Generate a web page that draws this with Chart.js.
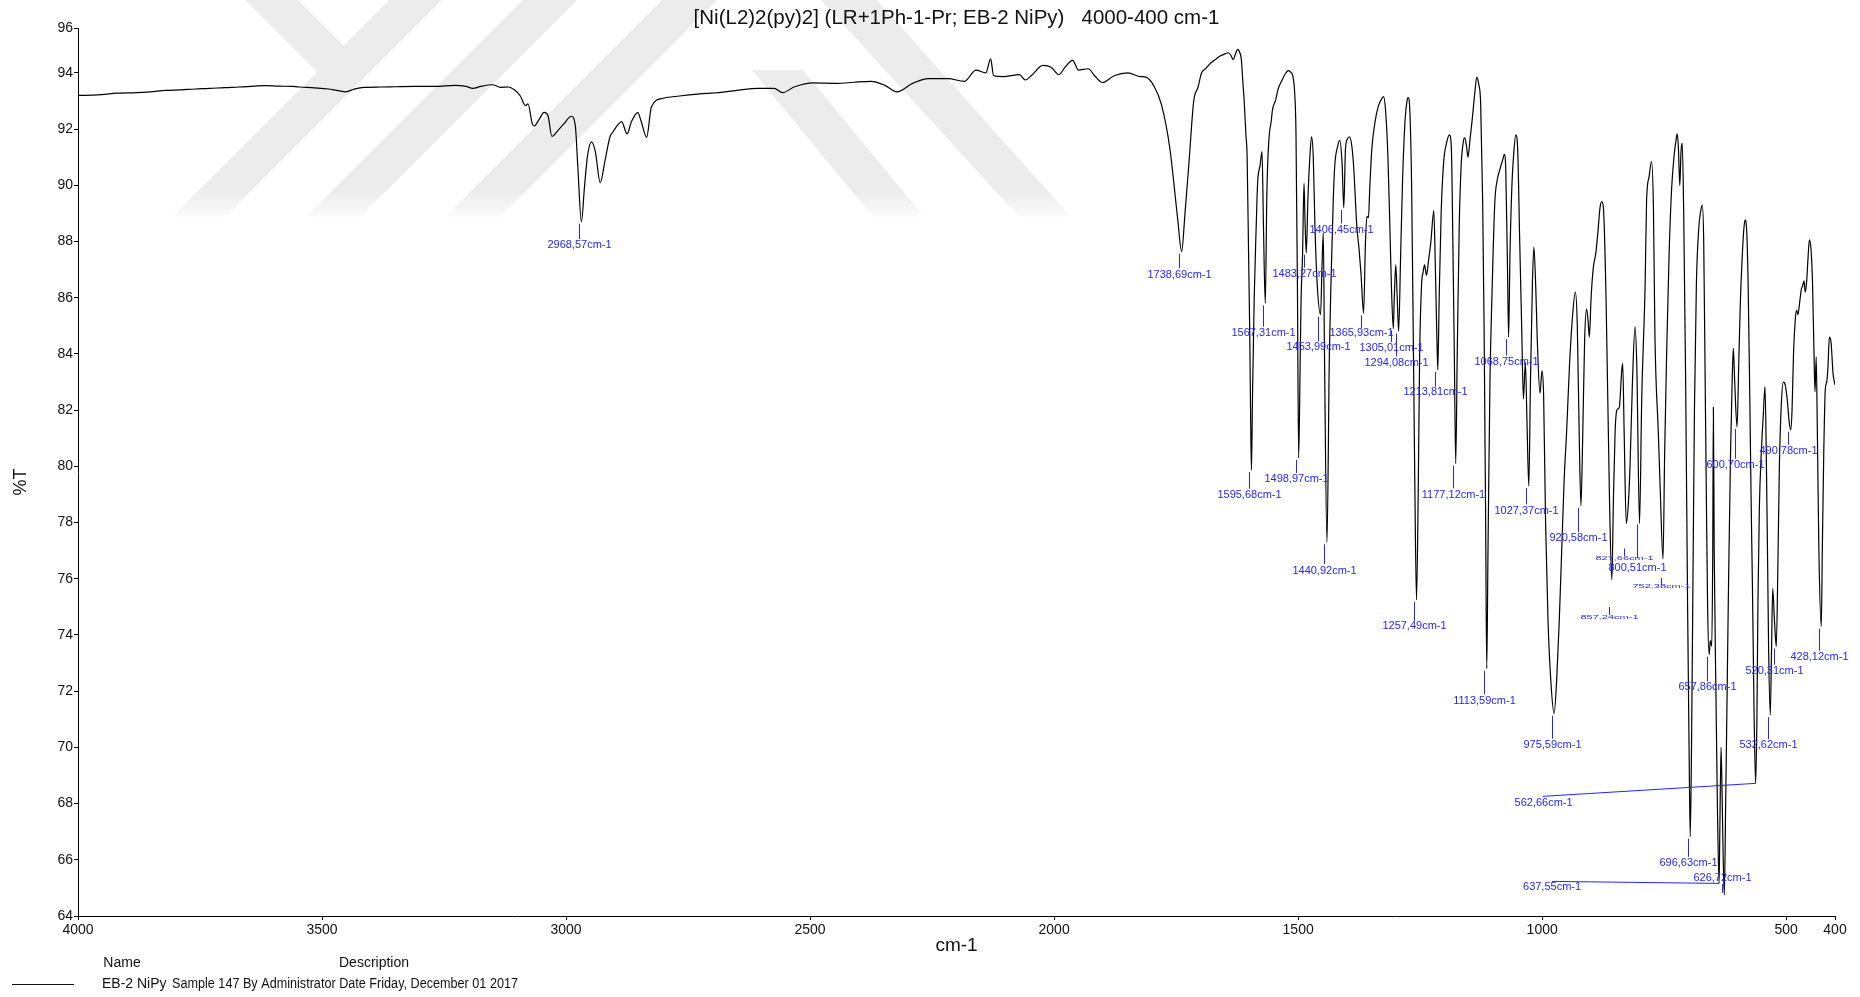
<!DOCTYPE html>
<html>
<head>
<meta charset="utf-8">
<script src="https://cdn.jsdelivr.net/npm/chart.js@4.4.1/dist/chart.umd.min.js"></script>
<style>
  html, body { margin: 0; padding: 0; background: #ffffff; }
  #wrap { width: 1860px; height: 997px; position: relative; }
</style>
</head>
<body>
<div id="wrap"><canvas id="ir" width="1860" height="997"></canvas></div>
<script>
// IR spectrum of EB-2 NiPy, 4000-400 cm-1 (wavenumber in cm-1, transmittance in %T)
const wavenumber = [
  4000, 3960, 3920, 3880, 3852, 3820, 3790, 3760, 3730, 3700, 3670, 3640, 3617, 3590, 3560, 3544,
  3515, 3487, 3470, 3451, 3435, 3414, 3380, 3349, 3310, 3268, 3228, 3205, 3191, 3175, 3151, 3134,
  3118, 3106, 3094, 3083, 3078, 3069, 3065, 3055, 3045, 3037, 3029, 3017, 3005, 2989, 2981, 2976,
  2968.57, 2962, 2956, 2948, 2940, 2930, 2920, 2910, 2904, 2894, 2886, 2875, 2866, 2853, 2846, 2835,
  2825, 2801, 2768, 2730, 2687, 2650, 2607, 2574, 2556, 2533, 2493, 2444, 2410, 2375, 2347, 2322,
  2290, 2258, 2217, 2184, 2160, 2140, 2130, 2124, 2104, 2071, 2059, 2047, 2023, 2006, 1990, 1978,
  1962, 1950, 1930, 1917, 1901, 1877, 1849, 1824, 1812, 1796, 1780, 1763, 1747, 1738.69, 1732, 1723,
  1714, 1705, 1698, 1690, 1678, 1668, 1660, 1650, 1643, 1637, 1633, 1628, 1624, 1619, 1616.5, 1613,
  1610.5, 1607, 1604.5, 1601.5, 1599, 1597.5, 1595.68, 1593.5, 1590, 1586, 1583, 1578, 1574, 1571, 1567.31, 1564,
  1560, 1555, 1552.7, 1546, 1541.5, 1532.8, 1525, 1520, 1514, 1511, 1507, 1504.4, 1501.5, 1498.97, 1496, 1494,
  1491, 1488, 1485.5, 1483.27, 1480, 1476, 1472.5, 1469, 1465.5, 1461, 1453.99, 1451, 1448.5, 1446, 1440.92, 1436,
  1432, 1428, 1425, 1419, 1415, 1410, 1406.45, 1403, 1399, 1395, 1390, 1386, 1380, 1375, 1371, 1365.93,
  1362, 1359, 1356, 1353, 1349, 1343, 1336, 1328, 1325, 1321, 1316, 1312, 1309, 1305.01, 1303, 1300,
  1297, 1294.08, 1290, 1286, 1281, 1277, 1274.5, 1271, 1267.5, 1264, 1261, 1257.49, 1254, 1251, 1247, 1244,
  1241, 1237, 1233, 1228, 1222, 1219, 1216, 1213.81, 1211, 1207, 1202, 1196, 1190, 1186, 1183, 1180,
  1177.12, 1174, 1170, 1166, 1162, 1159, 1155, 1152, 1148, 1143, 1138, 1134, 1130, 1126, 1122, 1119,
  1116, 1113.59, 1111, 1107, 1103, 1097, 1092, 1087, 1081, 1077.5, 1074.5, 1071, 1068.75, 1066, 1062, 1058,
  1054, 1050, 1046, 1042, 1038.5, 1034.4, 1031, 1027.37, 1024, 1020, 1017, 1013, 1010, 1004.5, 1000.3, 997,
  993, 988, 982, 975.59, 970, 965, 960, 955, 950, 944, 938, 932, 928, 924, 920.58, 917,
  913, 909, 906, 903.3, 900, 898, 895, 890, 886, 881.5, 878, 874.5, 869, 862, 857.24, 854,
  850.6, 847, 842, 837, 835, 832, 827.66, 823, 820, 815, 809.7, 806, 800.51, 796, 789, 786,
  781, 776, 772, 769, 762, 758.5, 752.38, 749, 745, 740, 735, 730, 725, 723.5, 721, 718,
  715.5, 713, 710, 706, 702, 699, 696.63, 694, 691, 688, 684, 679, 675, 672, 669, 666,
  663, 661, 657.86, 655.5, 652.5, 650.5, 649.2, 647.5, 644, 641, 637.55, 636, 633.5, 631, 629, 626.72,
  624, 621, 618, 614, 610.5, 608.3, 605.5, 600.7, 597, 594, 590, 587, 584.3, 581, 578, 575,
  572, 569, 566, 562.66, 560, 558, 555, 551, 547, 543.4, 540.5, 538, 536, 532.62, 530, 527.6,
  524, 520.31, 517, 514, 510, 505.8, 502, 498, 494, 490.78, 488, 485, 481, 478.5, 476, 472,
  469, 466, 463.5, 461, 458, 455, 452.5, 449, 446, 443, 441, 438.5, 436, 433, 428.12, 426,
  423, 420, 417, 414.5, 411.5, 408, 404, 400
];
const transmittance = [
  93.20, 93.22, 93.28, 93.30, 93.33, 93.38, 93.40, 93.43, 93.45, 93.48, 93.50, 93.53, 93.55, 93.53, 93.52, 93.50,
  93.47, 93.43, 93.38, 93.33, 93.42, 93.49, 93.50, 93.51, 93.52, 93.52, 93.56, 93.52, 93.45, 93.52, 93.58, 93.49,
  93.50, 93.40, 93.19, 92.84, 92.90, 92.18, 92.12, 92.35, 92.60, 92.48, 91.74, 91.95, 92.18, 92.46, 92.12, 90.70,
  88.70, 90.00, 91.05, 91.55, 91.20, 90.10, 90.90, 91.73, 91.90, 92.15, 92.27, 91.83, 92.27, 92.59, 92.27, 91.71,
  92.80, 93.10, 93.18, 93.25, 93.30, 93.38, 93.45, 93.45, 93.30, 93.50, 93.65, 93.63, 93.67, 93.70, 93.56, 93.33,
  93.63, 93.80, 93.80, 93.70, 94.10, 94.00, 94.50, 93.90, 93.87, 93.94, 93.75, 93.90, 94.27, 94.20, 93.94, 94.20,
  94.45, 94.10, 94.15, 93.90, 93.66, 93.90, 94.00, 93.87, 93.85, 93.55, 92.87, 91.33, 88.84, 87.64, 88.96, 90.97,
  93.00, 93.50, 94.00, 94.15, 94.37, 94.50, 94.60, 94.68, 94.72, 94.60, 94.47, 94.70, 94.84, 94.70, 94.50, 93.60,
  93.00, 91.80, 91.00, 87.50, 84.50, 82.00, 79.87, 82.50, 86.00, 88.50, 90.10, 90.70, 91.20, 88.50, 85.80, 89.80,
  91.60, 92.30, 92.68, 93.04, 93.40, 93.75, 94.00, 94.08, 94.00, 93.90, 93.27, 91.85, 86.50, 80.30, 83.50, 85.90,
  87.50, 90.07, 88.50, 87.60, 89.50, 91.00, 91.73, 91.00, 88.50, 86.50, 85.40, 87.20, 88.30, 84.00, 77.30, 84.00,
  87.00, 89.50, 90.70, 91.40, 91.60, 90.80, 89.20, 91.30, 91.65, 91.73, 91.40, 90.60, 88.60, 87.70, 86.80, 85.45,
  88.00, 88.90, 88.85, 90.00, 91.30, 92.20, 92.80, 93.10, 93.16, 92.70, 91.00, 88.50, 86.50, 84.90, 86.00, 87.17,
  86.00, 84.80, 87.50, 90.20, 92.30, 93.00, 93.12, 92.60, 90.00, 84.50, 79.50, 75.25, 79.00, 84.00, 86.50, 86.90,
  87.17, 86.80, 87.30, 88.00, 89.10, 87.20, 84.80, 83.43, 86.00, 89.00, 90.80, 91.50, 91.80, 91.30, 88.00, 84.00,
  80.10, 84.00, 88.50, 90.70, 91.50, 91.70, 91.40, 91.00, 91.60, 92.40, 93.30, 93.85, 93.60, 92.90, 89.50, 85.00,
  78.50, 72.80, 77.00, 83.00, 86.00, 89.40, 90.20, 90.55, 90.90, 91.10, 90.50, 87.00, 84.60, 87.50, 90.00, 91.20,
  91.80, 91.20, 88.00, 85.00, 82.40, 83.70, 81.50, 79.30, 83.00, 86.50, 87.80, 86.30, 84.50, 82.60, 83.40, 82.50,
  78.00, 74.50, 72.30, 71.20, 72.50, 74.50, 77.00, 79.50, 81.20, 83.60, 85.30, 86.20, 85.00, 81.00, 78.60, 81.00,
  84.50, 85.60, 85.20, 84.60, 85.90, 86.50, 87.10, 87.60, 88.30, 89.20, 89.42, 89.20, 85.90, 78.80, 75.96, 78.80,
  81.20, 82.00, 82.10, 83.40, 83.67, 81.20, 77.97, 78.80, 80.00, 83.00, 84.97, 83.50, 77.97, 82.40, 86.50, 89.50,
  90.30, 90.85, 89.20, 84.70, 81.20, 79.40, 76.70, 80.50, 84.00, 87.50, 89.80, 91.00, 91.70, 91.83, 91.40, 90.00,
  91.20, 91.50, 89.00, 83.00, 75.00, 70.00, 66.82, 70.00, 76.00, 82.00, 86.50, 88.50, 89.10, 89.30, 88.00, 83.00,
  78.00, 75.00, 73.30, 73.80, 73.60, 77.00, 82.10, 77.00, 72.00, 68.00, 65.16, 67.00, 70.00, 68.00, 66.00, 64.75,
  68.00, 72.00, 76.00, 80.50, 83.20, 84.20, 83.00, 81.40, 83.80, 85.80, 87.50, 88.40, 88.77, 88.40, 86.50, 83.00,
  79.00, 75.50, 71.50, 68.72, 71.00, 75.00, 78.50, 80.50, 81.80, 82.84, 80.00, 76.50, 73.50, 71.15, 73.50, 75.66,
  74.50, 73.59, 76.50, 80.00, 82.20, 83.00, 82.90, 82.40, 81.60, 81.30, 82.00, 84.00, 85.30, 85.56, 85.40, 85.90,
  86.30, 86.45, 86.60, 86.20, 86.60, 87.50, 88.06, 87.70, 86.50, 84.00, 82.66, 83.90, 81.00, 77.00, 74.30, 77.00,
  80.50, 82.70, 83.00, 83.50, 84.60, 84.40, 83.30, 82.90
];

// Axis ticks
const xTickValues = [4000, 3500, 3000, 2500, 2000, 1500, 1000, 500, 400];
const yTickValues = [64, 66, 68, 70, 72, 74, 76, 78, 80, 82, 84, 86, 88, 90, 92, 94];
const yAxisBottom = 64;
const yAxisTop = 95.6;

// Picked peak positions (cm-1)
const peakPositions = [
  2968.57, 1738.69, 1595.68, 1567.31, 1498.97, 1483.27, 1453.99, 1440.92, 1406.45, 1365.93,
  1305.01, 1294.08, 1257.49, 1213.81, 1177.12, 1113.59, 1068.75, 1027.37, 975.59, 920.58,
  857.24, 827.66, 800.51, 752.38, 696.63, 657.86, 637.55, 626.72, 600.70, 562.66,
  532.62, 520.31, 490.78, 428.12
];

// Texts
const titleText = '[Ni(L2)2(py)2] (LR+1Ph-1-Pr; EB-2 NiPy)   4000-400 cm-1';
const xAxisTitle = 'cm-1';
const yAxisTitle = '%T';
const legendHeaders = ['Name', 'Description'];
const sampleName = 'EB-2 NiPy';
const sampleDescription = 'Sample 147 By Administrator Date Friday, December 01 2017';

// ---- presentation ----
const FONT = '"Liberation Sans", Arial, Helvetica, sans-serif';
const LABEL_BLUE = '#2424ff';

// placement of each peak marker relative to its minimum (pixels)
// tick: [start, end] below the minimum, text: centre offset; special kinds for leaders, tiny and raised labels
const labelPlacement = [
  {tick: [2, 17], text: 23.5},            // 2968.57
  {tick: [2, 16.6], text: 23},            // 1738.69
  {tick: [2, 18.7], text: 25},            // 1595.68
  {tick: [2, 23.4], text: 29.7},          // 1567.31
  {tick: [2, 15], text: 21.5},            // 1498.97
  {tick: [2, 14.7], text: 21.5},          // 1483.27
  {tick: [2, 26.7], text: 32.7},          // 1453.99
  {tick: [2, 21.7], text: 28.3},          // 1440.92
  {tick: [2, 15.7], text: 21.7},          // 1406.45
  {tick: [2, 15], text: 20},              // 1365.93
  {tick: [2, 13.4], text: 19.4},          // 1305.01
  {tick: [2, 25], text: 31.6},            // 1294.08
  {tick: [2, 21], text: 26.6},            // 1257.49
  {tick: [2, 16.7], text: 22.3},          // 1213.81
  {tick: [2, 24.7], text: 31.7},          // 1177.12
  {tick: [2, 25.7], text: 32.4},          // 1113.59
  {tick: [2, 18.4], text: 25},            // 1068.75
  {tick: [2, 18.3], text: 25},            // 1027.37
  {tick: [2, 25], text: 31.7},            // 975.59
  {tick: [2, 26.6], text: 32.6},          // 920.58
  {tick: [27, 35], text: 37.7, tiny: true},  // 857.24
  {tick: [25, 32.6], text: 35, tiny: true},  // 827.66
  {tick: [1, 35], text: 45},              // 800.51
  {tick: [19, 26], text: 28, tiny: true},    // 752.38
  {tick: [2, 20], text: 26.6},            // 696.63
  {tick: [2, 26.7], text: 32.7},          // 657.86
  {leader: [-167, -2], text: [-167, 3.5]},   // 637.55
  {tick: [-2, -11], text: -17},           // 626.72
  {tick: [2, 31.6], text: 38.3},          // 600.70
  {leader: [-213, 13], text: [-212, 20]},    // 562.66
  {tick: [2, 24], text: 30},              // 532.62
  {tick: [2, 18.3], text: 24.3},          // 520.31
  {tick: [2, 15], text: 20.7},            // 490.78
  {tick: [2, 24.3], text: 30.6}           // 428.12
];

// faint background emblem: diagonal grey bands across the top of the page (page pixels)
const emblemBands = [
  [[172, 217], [225, 217], [442, 0], [389, 0]],
  [[245, 0], [298, 0], [370, 72], [317, 72]],
  [[306, 217], [360, 217], [577, 0], [523, 0]],
  [[445, 217], [500, 217], [717, 0], [662, 0]],
  [[752, 70], [803, 70], [924, 217], [873, 217]],
  [[821, 0], [877, 0], [1071, 217], [1019, 217]]
];

function wnText(v) {
  return v.toFixed(2).replace('.', ',') + 'cm-1';
}

const emblem = {
  id: 'emblem',
  beforeDraw(chart) {
    const ctx = chart.ctx;
    ctx.save();
    const g = ctx.createLinearGradient(0, 0, 0, 222);
    g.addColorStop(0, 'rgb(236,236,236)');
    g.addColorStop(0.86, 'rgb(236,236,236)');
    g.addColorStop(1, 'rgba(236,236,236,0)');
    ctx.fillStyle = g;
    emblemBands.forEach(poly => {
      ctx.beginPath();
      poly.forEach(([px, py], k) => (k ? ctx.lineTo(px, py) : ctx.moveTo(px, py)));
      ctx.closePath();
      ctx.fill();
    });
    ctx.restore();
  }
};

const peakLabels = {
  id: 'peakLabels',
  afterDatasetsDraw(chart) {
    const {ctx, scales: {x, y}} = chart;
    ctx.save();
    ctx.strokeStyle = LABEL_BLUE;
    ctx.fillStyle = LABEL_BLUE;
    ctx.lineWidth = 1;
    ctx.font = '11px ' + FONT;
    ctx.textAlign = 'center';
    ctx.textBaseline = 'middle';
    peakPositions.forEach((wn, i) => {
      const t = transmittance[wavenumber.indexOf(wn)];
      const px = x.getPixelForValue(wn);
      const py = y.getPixelForValue(t);
      const p = labelPlacement[i];
      const text = wnText(wn);
      if (p.leader) {
        ctx.beginPath();
        ctx.moveTo(px, py);
        ctx.lineTo(px + p.leader[0], py + p.leader[1]);
        ctx.stroke();
        ctx.fillText(text, px + p.text[0], py + p.text[1]);
        return;
      }
      const tx = Math.round(px - 2.5) + 0.5;
      ctx.beginPath();
      ctx.moveTo(tx, py + p.tick[0]);
      ctx.lineTo(tx, py + p.tick[1]);
      ctx.stroke();
      if (p.tiny) {
        ctx.save();
        ctx.translate(tx, py + p.text);
        ctx.scale(1, 0.42);
        ctx.fillText(text, 0, 0);
        ctx.restore();
      } else {
        ctx.fillText(text, tx, py + p.text);
      }
    });
    ctx.restore();
  }
};

const frameTexts = {
  id: 'frameTexts',
  afterDraw(chart) {
    const {ctx, chartArea: a} = chart;
    ctx.save();
    ctx.fillStyle = '#111';
    ctx.textBaseline = 'middle';
    ctx.textAlign = 'center';
    ctx.font = '20.5px ' + FONT;
    ctx.fillText(titleText, (a.left + a.right) / 2, 18);
    ctx.font = '19px ' + FONT;
    ctx.fillText(xAxisTitle, (a.left + a.right) / 2, 946);
    ctx.save();
    ctx.translate(21, 482);
    ctx.rotate(-Math.PI / 2);
    ctx.font = '18px ' + FONT;
    ctx.fillText(yAxisTitle, 0, 0);
    ctx.restore();
    // sample legend
    ctx.font = '14px ' + FONT;
    ctx.fillText(legendHeaders[0], 122, 963);
    ctx.fillText(legendHeaders[1], 374, 963);
    ctx.textAlign = 'left';
    ctx.fillText(sampleName, 102, 984);
    // the description column is set slightly condensed
    const w = ctx.measureText(sampleDescription).width;
    ctx.save();
    ctx.translate(172, 984);
    ctx.scale(346 / w, 1);
    ctx.fillText(sampleDescription, 0, 0);
    ctx.restore();
    ctx.strokeStyle = '#111';
    ctx.lineWidth = 1;
    ctx.beginPath();
    ctx.moveTo(12, 984.5);
    ctx.lineTo(74, 984.5);
    ctx.stroke();
    ctx.restore();
  }
};

new Chart(document.getElementById('ir'), {
  type: 'line',
  data: {
    datasets: [{
      label: sampleName,
      data: wavenumber.map((w, i) => ({x: w, y: transmittance[i]})),
      borderColor: '#000000',
      borderWidth: 1.2,
      pointRadius: 0,
      fill: false,
      cubicInterpolationMode: 'monotone'
    }]
  },
  options: {
    responsive: false,
    animation: false,
    devicePixelRatio: 1,
    parsing: false,
    normalized: true,
    layout: {padding: {left: 0, top: 28, right: 25, bottom: 0}},
    plugins: {legend: {display: false}, tooltip: {enabled: false}, title: {display: false}},
    scales: {
      x: {
        type: 'linear',
        reverse: true,
        min: 400,
        max: 4000,
        afterBuildTicks(axis) { axis.ticks = xTickValues.map(v => ({value: v})); },
        afterFit(axis) { axis.height = 81; axis.paddingLeft = 0; axis.paddingRight = 0; },
        grid: {display: true, drawOnChartArea: false, drawTicks: true, tickLength: 4, color: '#000', lineWidth: 1},
        border: {display: true, color: '#000', width: 1},
        ticks: {
          autoSkip: false, maxRotation: 0, padding: 2, color: '#111',
          font: {family: FONT, size: 14},
          callback: v => String(v)
        }
      },
      y: {
        type: 'linear',
        min: yAxisBottom,
        max: yAxisTop,
        afterBuildTicks(axis) { axis.ticks = yTickValues.concat([yAxisTop]).map(v => ({value: v})); },
        afterFit(axis) { axis.width = 78; axis.paddingTop = 0; axis.paddingBottom = 0; },
        grid: {display: true, drawOnChartArea: false, drawTicks: true, tickLength: 4, color: '#000', lineWidth: 1},
        border: {display: true, color: '#000', width: 1},
        ticks: {
          autoSkip: false, padding: 1, color: '#111',
          font: {family: FONT, size: 14},
          callback: v => String(Math.round(v))
        }
      }
    }
  },
  plugins: [emblem, peakLabels, frameTexts]
});
</script>
</body>
</html>
